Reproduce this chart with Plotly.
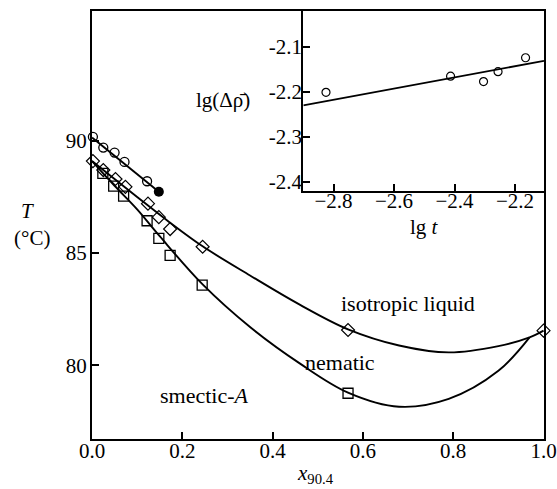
import plotly.graph_objects as go

# ---------------- main panel data (x_90.4 , T in degC) ----------------
circle_x = [0.002, 0.025, 0.050, 0.072, 0.122]
circle_T = [90.18, 89.70, 89.48, 89.06, 88.20]
filled_x = [0.148]
filled_T = [87.73]
circle_line_x = [0.0, 0.148]
circle_line_T = [90.15, 87.73]

diamond_x = [0.002, 0.025, 0.052, 0.074, 0.124, 0.148, 0.173, 0.245, 0.567, 1.0]
diamond_T = [89.10, 88.70, 88.30, 87.95, 87.20, 86.60, 86.07, 85.28, 81.57, 81.54]

square_x = [0.024, 0.048, 0.070, 0.122, 0.148, 0.173, 0.244, 0.567]
square_T = [88.55, 87.98, 87.54, 86.44, 85.65, 84.90, 83.57, 78.75]

iso_curve_x = [0.0, 0.10, 0.17, 0.245, 0.35, 0.46, 0.567, 0.68, 0.79, 0.90, 0.969, 1.0]
iso_curve_T = [89.10, 87.50, 86.40, 85.30, 84.00, 82.70, 81.60, 80.88, 80.57, 80.85, 81.24, 81.54]

sm_curve_x = [0.0, 0.05, 0.10, 0.15, 0.245, 0.35, 0.46, 0.567, 0.68, 0.79, 0.90, 0.969]
sm_curve_T = [89.10, 88.00, 86.95, 85.75, 83.60, 81.70, 80.08, 78.78, 78.15, 78.50, 79.75, 81.24]

main_xticks = [0.0, 0.2, 0.4, 0.6, 0.8, 1.0]
main_yticks = [80, 85, 90]

# ---------------- inset data (lg t , lg delta rho) ----------------
lgt = [-2.825, -2.413, -2.304, -2.256, -2.165]
lgrho = [-2.201, -2.165, -2.177, -2.155, -2.124]
fit_lgt = [-2.90, -2.104]
fit_lgrho = [-2.230, -2.131]

inset_xticks = [-2.8, -2.6, -2.4, -2.2]
inset_xticktext = ["\u22122.8", "\u22122.6", "\u22122.4", "\u22122.2"]
inset_yticks = [-2.4, -2.3, -2.2, -2.1]
inset_yticktext = ["-2.4", "-2.3", "-2.2", "-2.1"]

FONT = "Liberation Serif, DejaVu Serif, serif"
FS = 21
LW = 1.9

fig = go.Figure()

# curves
fig.add_trace(go.Scatter(x=iso_curve_x, y=iso_curve_T, mode="lines",
                         line=dict(color="black", width=LW, shape="spline", smoothing=1.0),
                         hoverinfo="skip", showlegend=False))
fig.add_trace(go.Scatter(x=sm_curve_x, y=sm_curve_T, mode="lines",
                         line=dict(color="black", width=LW, shape="spline", smoothing=1.0),
                         hoverinfo="skip", showlegend=False))
fig.add_trace(go.Scatter(x=circle_line_x, y=circle_line_T, mode="lines",
                         line=dict(color="black", width=LW),
                         hoverinfo="skip", showlegend=False))

# markers
fig.add_trace(go.Scatter(x=circle_x, y=circle_T, mode="markers", cliponaxis=False,
                         marker=dict(symbol="circle-open", size=9, color="black",
                                     line=dict(width=1.3, color="black")),
                         showlegend=False))
fig.add_trace(go.Scatter(x=filled_x, y=filled_T, mode="markers", cliponaxis=False,
                         marker=dict(symbol="circle", size=10, color="black"),
                         showlegend=False))
fig.add_trace(go.Scatter(x=diamond_x, y=diamond_T, mode="markers", cliponaxis=False,
                         marker=dict(symbol="diamond-open", size=10, color="black",
                                     line=dict(width=1.2, color="black")),
                         showlegend=False))
fig.add_trace(go.Scatter(x=square_x, y=square_T, mode="markers", cliponaxis=False,
                         marker=dict(symbol="square-open", size=10, color="black",
                                     line=dict(width=1.3, color="black")),
                         showlegend=False))

# inset
fig.add_trace(go.Scatter(x=fit_lgt, y=fit_lgrho, mode="lines", xaxis="x2", yaxis="y2",
                         line=dict(color="black", width=LW), showlegend=False))
fig.add_trace(go.Scatter(x=lgt, y=lgrho, mode="markers", xaxis="x2", yaxis="y2",
                         marker=dict(symbol="circle-open", size=8, color="black",
                                     line=dict(width=1.2, color="black")),
                         showlegend=False))

axis_common = dict(showgrid=False, zeroline=False, showline=True, linecolor="black",
                   linewidth=2.2, ticks="inside", tickcolor="black", tickwidth=1.8,
                   ticklen=7, automargin=False,
                   tickfont=dict(family=FONT, size=FS, color="black"))

fig.update_layout(
    width=557, height=489,
    margin=dict(l=92, r=13, t=11, b=50),
    paper_bgcolor="white", plot_bgcolor="white",
    font=dict(family=FONT, size=FS, color="black"),
    xaxis=dict(range=[0, 1.001], tickvals=main_xticks, tickformat=".1f",
               ticklabelstandoff=-8,
               mirror=True, domain=[0, 1], **axis_common),
    yaxis=dict(range=[76.71, 95.79], tickvals=main_yticks, ticklabelstandoff=-1,
               mirror=True, domain=[0, 1], **axis_common),
    xaxis2=dict(range=[-2.9, -2.104], tickvals=inset_xticks, ticktext=inset_xticktext,
                ticklabelstandoff=-10,
                mirror=True, domain=[0.4675, 1.0], anchor="y2", **axis_common),
    yaxis2=dict(range=[-2.42, -2.02], tickvals=inset_yticks, ticktext=inset_yticktext,
                ticklabelstandoff=-5,
                mirror=True, domain=[0.5801, 1.0], anchor="x2", **axis_common),
)

ann = [
    dict(text="<i>T</i>", x=-0.1438, y=0.5327, yanchor="middle"),
    dict(text="(°C)", x=-0.1327, y=0.4696, yanchor="middle"),
    dict(text="<i>x</i><sub>90.4</sub>", x=0.4934, y=-0.1165, yanchor="bottom"),
    dict(text="lg <i>t</i>", x=0.7367, y=0.4953, yanchor="middle"),
    dict(text="lg(Δ\u03c1\u0304)", x=0.2898, y=0.792, yanchor="middle"),
]
for a in ann:
    fig.add_annotation(xref="paper", yref="paper", showarrow=False,
                       xanchor="center",
                       font=dict(family=FONT, size=FS, color="black"), **a)

labels = [
    dict(text="isotropic liquid", x=0.699, y=82.73),
    dict(text="nematic", x=0.550, y=80.14),
    dict(text="smectic-<i>A</i>", x=0.249, y=78.67),
]
for a in labels:
    fig.add_annotation(xref="x", yref="y", showarrow=False,
                       xanchor="center", yanchor="middle",
                       font=dict(family=FONT, size=FS + 1, color="black"), **a)

fig.write_html("out.html")
